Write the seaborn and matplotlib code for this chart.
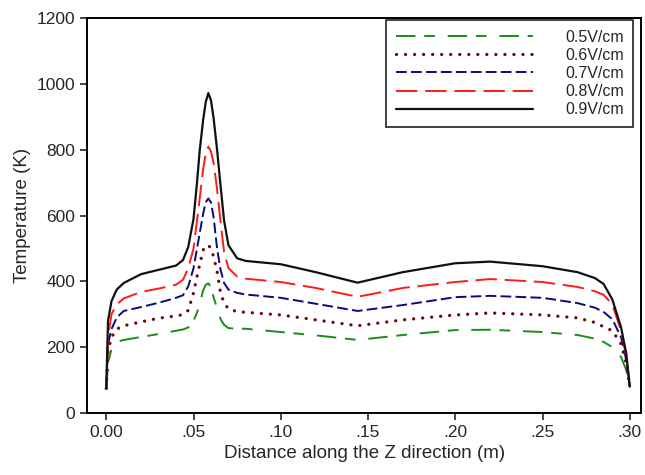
import matplotlib
matplotlib.use("Agg")
import matplotlib.pyplot as plt
import seaborn as sns
import pandas as pd

z = [0, 0.001, 0.003, 0.006, 0.01, 0.02, 0.03, 0.04, 0.044, 0.047, 0.05, 0.052,
     0.0535, 0.0555, 0.057, 0.0585, 0.06, 0.0615, 0.0635, 0.0655, 0.0675, 0.07,
     0.075, 0.08, 0.10, 0.12, 0.144, 0.17, 0.20, 0.22, 0.25, 0.27, 0.28, 0.285,
     0.29, 0.295, 0.298, 0.30]

t_05 = [75, 150, 195, 216, 222, 231, 240, 250, 254, 260, 280, 305, 332, 372, 390,
        394, 382, 352, 318, 285, 268, 258, 256, 256, 246, 236, 222, 237, 252, 253,
        246, 237, 226, 216, 200, 170, 130, 80]
t_06 = [75, 190, 230, 255, 265, 277, 288, 295, 299, 312, 365, 415, 450, 495, 508,
        510, 500, 475, 430, 365, 335, 316, 308, 306, 298, 283, 265, 283, 298, 304,
        298, 289, 275, 262, 250, 210, 150, 80]
t_07 = [75, 210, 255, 290, 310, 322, 335, 350, 358, 385, 440, 500, 545, 605, 640,
        652, 640, 595, 500, 435, 395, 375, 365, 360, 350, 332, 310, 328, 352, 356,
        350, 334, 320, 307, 285, 230, 160, 80]
t_08 = [75, 230, 300, 330, 348, 368, 378, 390, 405, 440, 500, 585, 650, 740, 790,
        809, 795, 760, 680, 580, 490, 440, 415, 408, 398, 380, 353, 380, 398, 407,
        398, 383, 370, 359, 330, 250, 170, 80]
t_09 = [75, 280, 340, 375, 395, 422, 435, 448, 465, 505, 590, 700, 795, 890, 945,
        972, 950, 896, 800, 690, 585, 510, 470, 462, 452, 428, 396, 428, 455, 460,
        446, 428, 410, 392, 345, 260, 180, 80]

labels = ["0.5V/cm", "0.6V/cm", "0.7V/cm", "0.8V/cm", "0.9V/cm"]
series = [t_05, t_06, t_07, t_08, t_09]
colors = ["#1a8c1a", "#6e0a0a", "#0a0a80", "#ff1a1a", "#111111"]
dashes = [(10, 4.5, 5.5, 6.6), (0.01, 2.7), (5.5, 2.2), (11, 4), ""]
widths = [1.4, 2.4, 1.4, 1.4, 1.6]

sns.set_style("ticks")
plt.rcParams["font.family"] = ["Liberation Sans", "DejaVu Sans"]

fig = plt.figure(figsize=(6.45, 4.75), dpi=100)
ax = fig.add_axes([0.135, 0.1305, 0.859, 0.8315])


def style_line(line, d, w):
    if d:
        line.set_dashes(d)
    if w > 2:
        line.set_dash_capstyle("round")


for lab, vals, c, d, w in zip(labels, series, colors, dashes, widths):
    df = pd.DataFrame({"z": z, "T": vals})
    sns.lineplot(data=df, x="z", y="T", ax=ax, color=c, linewidth=w,
                 dashes=False, label=lab)
    style_line(ax.get_lines()[-1], d, w)

ax.set_xlim(-0.011, 0.3065)
ax.set_ylim(0, 1200)
ax.set_xticks([0, 0.05, 0.10, 0.15, 0.20, 0.25, 0.30])
ax.set_xticklabels(["0.00", ".05", ".10", ".15", ".20", ".25", ".30"])
ax.set_yticks(range(0, 1201, 200))
ax.tick_params(direction="out", length=5, width=1.2, labelsize=12.5)
for s in ax.spines.values():
    s.set_linewidth(1.4)
    s.set_color("black")
ax.set_xlabel("Distance along the Z direction (m)", fontsize=13.5)
ax.set_ylabel("Temperature (K)", fontsize=13.5)

leg = ax.legend(loc="upper right", handlelength=8.6, fontsize=11.5,
                frameon=True, fancybox=False, edgecolor="black",
                borderpad=0.6, labelspacing=0.2, handletextpad=2.0,
                borderaxespad=0, bbox_to_anchor=(0.986, 0.995))
leg.get_frame().set_linewidth(1.3)
for h, d, w in zip(leg.get_lines(), dashes, widths):
    style_line(h, d, w)

fig.savefig("out.png", dpi=100)
